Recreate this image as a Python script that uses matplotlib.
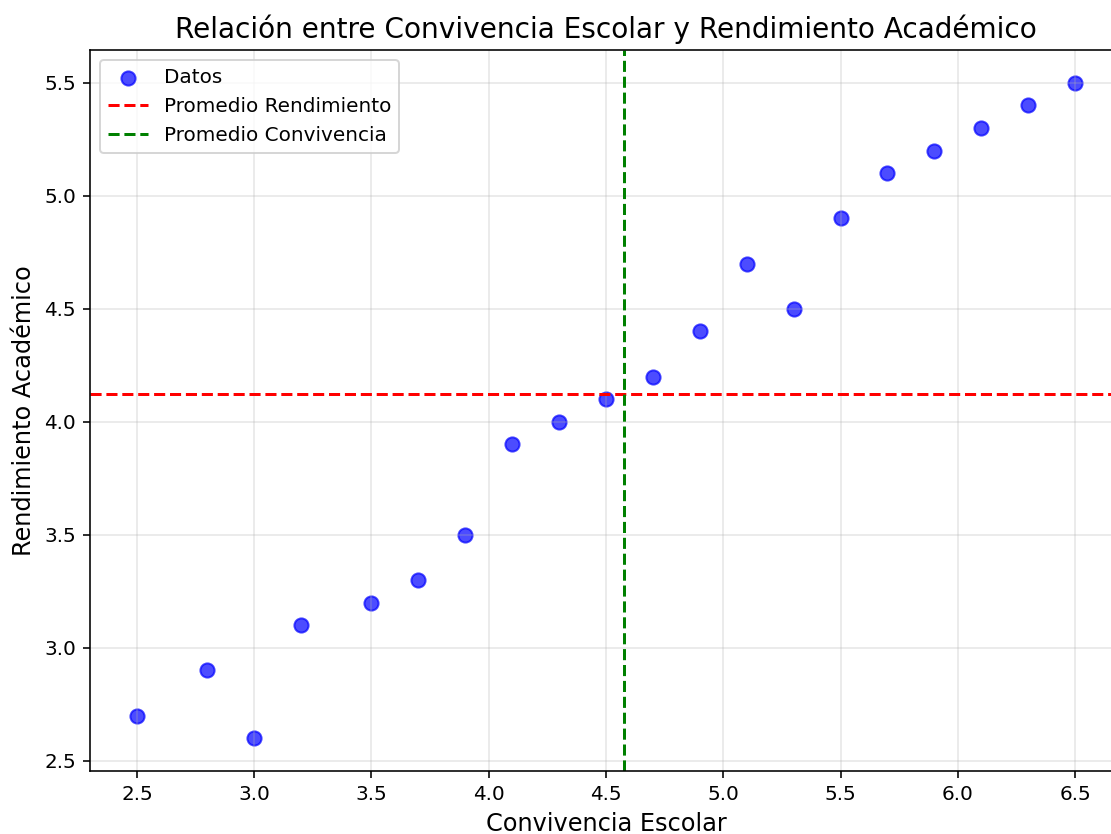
import numpy as np
import matplotlib.pyplot as plt

convivencia = [2.5, 2.8, 3.0, 3.2, 3.5, 3.7, 3.9, 4.1, 4.3, 4.5,
               4.7, 4.9, 5.1, 5.3, 5.5, 5.7, 5.9, 6.1, 6.3, 6.5]
rendimiento = [2.7, 2.9, 2.6, 3.1, 3.2, 3.3, 3.5, 3.9, 4.0, 4.1,
               4.2, 4.4, 4.7, 4.5, 4.9, 5.1, 5.2, 5.3, 5.4, 5.5]

DPI = 144
fig = plt.figure(figsize=(1111 / DPI, 834 / DPI), dpi=DPI)
# the reference is a crop: right spine falls just outside the picture
ax = fig.add_axes([90 / 1111, 63 / 834, 1032 / 1111, 721 / 834])

ax.scatter(convivencia, rendimiento, color='blue', alpha=0.7, s=50, label='Datos')
ax.axhline(np.mean(rendimiento), color='red', linestyle='--', label='Promedio Rendimiento')
ax.axvline(np.mean(convivencia), color='green', linestyle='--', label='Promedio Convivencia')

ax.set_title('Relación entre Convivencia Escolar y Rendimiento Académico', fontsize=14)
ax.set_xlabel('Convivencia Escolar', fontsize=12)
ax.set_ylabel('Rendimiento Académico', fontsize=12)
ax.grid(True, alpha=0.3)
ax.legend(loc='upper left')

fig.savefig('out.png', dpi=DPI)
